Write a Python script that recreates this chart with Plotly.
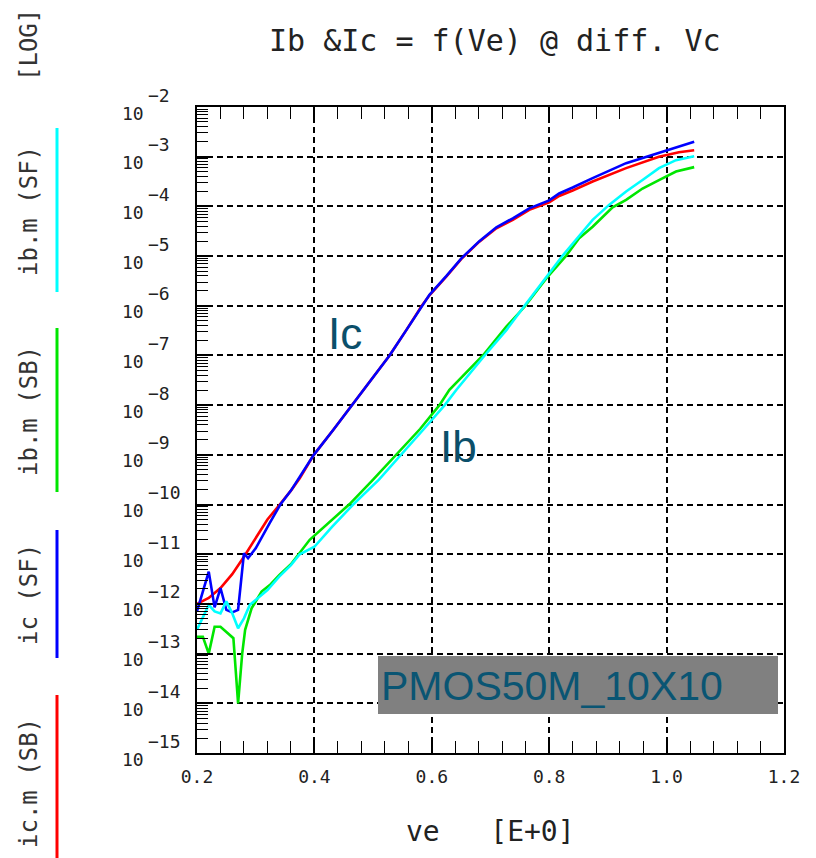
import numpy as np
import plotly.graph_objects as go

# ---------------- data ----------------
# Ve in volts; currents given as log10(I [A])
ic_sb_ve = [0.20, 0.22, 0.24, 0.26, 0.28, 0.30, 0.32, 0.341, 0.36, 0.375, 0.399, 0.432, 0.464,
            0.496, 0.528, 0.556, 0.583, 0.596, 0.625, 0.650, 0.681, 0.710, 0.738, 0.766, 0.800,
            0.817, 0.840, 0.874, 0.931, 0.987, 1.021, 1.047]
ic_sb_log = [-12.0, -11.88, -11.68, -11.4, -11.05, -10.68, -10.3, -10.0, -9.72, -9.47, -9.0, -8.5,
             -8.0, -7.5, -7.0, -6.5, -6.0, -5.79, -5.41, -5.06, -4.71, -4.44, -4.27, -4.07, -3.92,
             -3.79, -3.68, -3.50, -3.23, -3.00, -2.91, -2.87]

ic_sf_ve = [0.20, 0.22, 0.23, 0.24, 0.25, 0.26, 0.27, 0.28, 0.287, 0.293, 0.30, 0.324, 0.342,
            0.36, 0.375, 0.399, 0.432, 0.464, 0.496, 0.528, 0.556, 0.583, 0.596, 0.625, 0.650,
            0.681, 0.710, 0.738, 0.766, 0.800, 0.817, 0.840, 0.874, 0.931, 0.987, 1.021, 1.047]
ic_sf_log = [-12.15, -11.35, -12.07, -11.68, -12.12, -12.17, -12.12, -10.98, -11.08, -10.98,
             -10.88, -10.37, -10.0, -9.72, -9.45, -9.0, -8.5, -8.0, -7.5, -7.0, -6.5, -6.0,
             -5.78, -5.40, -5.05, -4.70, -4.42, -4.24, -4.04, -3.88, -3.74, -3.62, -3.43,
             -3.13, -2.93, -2.80, -2.70]

ib_sb_ve = [0.20, 0.21, 0.22, 0.23, 0.24, 0.262, 0.27, 0.277, 0.282, 0.293, 0.31, 0.324, 0.34,
            0.36, 0.392, 0.43, 0.46, 0.50, 0.54, 0.58, 0.613, 0.63, 0.687, 0.727, 0.758, 0.795,
            0.829, 0.851, 0.874, 0.908, 0.931, 0.959, 0.987, 1.016, 1.047]
ib_sb_log = [-12.66, -12.66, -13.0, -12.46, -12.46, -12.69, -14.0, -13.0, -12.52, -12.09, -11.75,
             -11.62, -11.42, -11.2, -10.71, -10.3, -9.99, -9.5, -9.0, -8.48, -8.0, -7.69, -7.0,
             -6.42, -6.02, -5.45, -4.99, -4.64, -4.41, -4.02, -3.87, -3.64, -3.47, -3.30, -3.21]

ib_sf_ve = [0.20, 0.22, 0.23, 0.24, 0.25, 0.26, 0.27, 0.28, 0.29, 0.30, 0.32, 0.34, 0.36, 0.375,
            0.40, 0.43, 0.466, 0.51, 0.548, 0.585, 0.622, 0.642, 0.690, 0.727, 0.758, 0.792,
            0.823, 0.857, 0.874, 0.902, 0.931, 0.959, 0.987, 1.016, 1.047]
ib_sf_log = [-12.52, -12.02, -12.15, -12.19, -11.95, -12.19, -12.49, -12.29, -12.02, -11.92,
             -11.72, -11.45, -11.22, -11.0, -10.85, -10.45, -10.0, -9.5, -9.0, -8.5, -8.0, -7.69,
             -7.0, -6.49, -6.0, -5.48, -4.99, -4.51, -4.27, -3.97, -3.70, -3.47, -3.23, -3.07,
             -2.99]

series_names = ["ic.m (SB)", "ic (SF)", "ib.m (SB)", "ib.m (SF)"]
series_colors = ["#ff0000", "#0000ff", "#00e600", "#00ffff"]

y_decades = list(range(-2, -16, -1))
title_text = "Ib &amp;Ic = f(Ve) @ diff. Vc"
x_title_text = "ve\u00a0\u00a0\u00a0[E+0]"
label_ic = "Ic"
label_ib = "Ib"
device_label = "PMOS50M_10X10"

# ---------------- layout helpers ----------------
W, H = 816, 858
L, R, T, B = 197, 32, 107, 105
PW = W - L - R
PH = H - T - B
MONO = "DejaVu Sans Mono"
NARROW = "Liberation Sans Narrow, Liberation Sans, Arial"
TEAL = "#0b4f6a"


def px(xp):
    return (xp - L) / PW


def py(yp):
    return (H - B - yp) / PH


fig = go.Figure()
data = [(ic_sb_ve, ic_sb_log), (ic_sf_ve, ic_sf_log), (ib_sb_ve, ib_sb_log), (ib_sf_ve, ib_sf_log)]
for (ve, lg), name, col in zip(data, series_names, series_colors):
    fig.add_trace(go.Scatter(x=ve, y=np.power(10.0, np.array(lg)), mode="lines", name=name,
                             line=dict(color=col, width=2.6), showlegend=False))

shapes = []
annotations = []

# white label boxes covering the grid, under the curves
for x0, y0, x1, y1 in [(327, 298, 378, 352), (433, 420, 527, 466)]:
    shapes.append(dict(type="rect", xref="paper", yref="paper", x0=px(x0), x1=px(x1),
                       y0=py(y1), y1=py(y0), fillcolor="white", line=dict(width=0),
                       layer="between"))
# gray device box
shapes.append(dict(type="rect", xref="paper", yref="paper", x0=px(378), x1=px(778),
                   y0=py(714), y1=py(656), fillcolor="#808080", line=dict(width=0),
                   layer="above"))

# left vertical legend
legend_bars = [(series_colors[3], 128, 292), (series_colors[2], 328, 492),
               (series_colors[1], 530, 658), (series_colors[0], 695, 858)]
for col, y0, y1 in legend_bars:
    shapes.append(dict(type="line", xref="paper", yref="paper", x0=px(57), x1=px(57),
                       y0=py(y0), y1=py(y1), line=dict(color=col, width=3)))
legend_texts = [("[LOG]", 45), (series_names[3], 211), (series_names[2], 411),
                (series_names[1], 595), (series_names[0], 783)]
for txt, yc in legend_texts:
    annotations.append(dict(text=txt, xref="paper", yref="paper", x=px(29), y=py(yc),
                            textangle=-90, showarrow=False, xanchor="center", yanchor="middle",
                            font=dict(family=MONO, size=24, color="#333333")))

# y tick labels 10^k
for k in y_decades:
    annotations.append(dict(text="10", xref="paper", yref="y", x=px(120), y=k, yshift=-6,
                            showarrow=False, xanchor="left", yanchor="middle",
                            font=dict(family=MONO, size=18, color="#222222")))
    annotations.append(dict(text="\u2212" + str(-k), xref="paper", yref="y", x=px(146), y=k,
                            yshift=12, showarrow=False, xanchor="left", yanchor="middle",
                            font=dict(family=MONO, size=18, color="#222222")))

# titles
annotations.append(dict(text=title_text, xref="paper", yref="paper", x=px(495), y=py(41),
                        showarrow=False, xanchor="center", yanchor="middle",
                        font=dict(family=MONO, size=30, color="#222222")))
annotations.append(dict(text=x_title_text, xref="paper", yref="paper", x=px(490), y=py(831),
                        showarrow=False, xanchor="center", yanchor="middle",
                        font=dict(family=MONO, size=28, color="#222222")))

# curve labels
annotations.append(dict(text=label_ic, xref="paper", yref="paper", x=px(345), y=py(333),
                        showarrow=False, xanchor="center", yanchor="middle",
                        font=dict(family=NARROW, size=44, color=TEAL)))
annotations.append(dict(text=label_ib, xref="paper", yref="paper", x=px(458), y=py(446),
                        showarrow=False, xanchor="center", yanchor="middle",
                        font=dict(family=NARROW, size=44, color=TEAL)))
annotations.append(dict(text=device_label, xref="paper", yref="paper", x=px(379), y=py(686),
                        showarrow=False, xanchor="left", yanchor="middle",
                        font=dict(family=NARROW, size=41, color="#0a5573")))

axis_common = dict(showline=True, linecolor="black", linewidth=2,
                   ticks="inside", tickcolor="black", tickwidth=1.5,
                   showgrid=True, gridcolor="black", gridwidth=1.5, griddash="6px,4px",
                   zeroline=False)

fig.update_layout(
    width=W, height=H,
    margin=dict(l=L, r=R, t=T, b=B, pad=0),
    paper_bgcolor="white", plot_bgcolor="white",
    showlegend=False,
    xaxis=dict(range=[0.2, 1.2], tickmode="linear", tick0=0.2, dtick=0.2, tickformat=".1f",
               ticklen=12, mirror="ticks",
               minor=dict(tickmode="linear", tick0=0.2, dtick=0.04, ticks="inside", ticklen=12,
                          tickwidth=1, tickcolor="black", showgrid=False),
               tickfont=dict(family=MONO, size=18, color="#222222"), ticklabelstandoff=6,
               **axis_common),
    yaxis=dict(type="log", range=[-15, -2], tickmode="linear", tick0=0, dtick=1,
               showticklabels=False, ticklen=14, mirror=True,
               minor=dict(dtick="D1", ticks="inside", ticklen=11, tickwidth=1,
                          tickcolor="black", showgrid=False),
               **axis_common),
    shapes=shapes,
    annotations=annotations,
)

fig.write_html("out.html")
